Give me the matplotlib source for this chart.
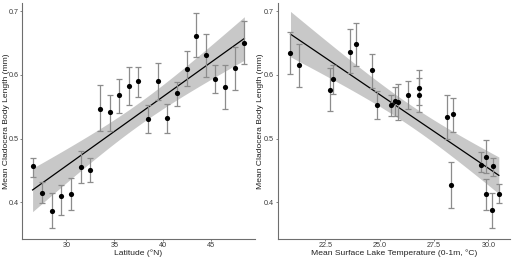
import matplotlib
matplotlib.use('Agg')
import matplotlib.pyplot as plt
import numpy as np

plt.rcParams['font.family'] = ['Liberation Sans', 'DejaVu Sans']

# latitude panel
lat = [26.5, 27.5, 28.5, 29.5, 30.5, 31.5, 32.5, 33.5, 34.5, 35.5, 36.5, 37.5,
       38.5, 39.5, 40.5, 41.5, 42.5, 43.5, 44.5, 45.5, 46.5, 47.5, 48.5]
lat_mean = [0.456, 0.414, 0.386, 0.410, 0.413, 0.455, 0.451, 0.547, 0.542, 0.568,
            0.583, 0.590, 0.531, 0.590, 0.533, 0.571, 0.610, 0.662, 0.631, 0.594,
            0.581, 0.611, 0.651]
lat_hi = [0.470, 0.431, 0.414, 0.427, 0.438, 0.480, 0.469, 0.584, 0.568, 0.594,
          0.612, 0.612, 0.553, 0.619, 0.555, 0.589, 0.637, 0.697, 0.664, 0.616,
          0.616, 0.644, 0.685]
lat_lo = [0.440, 0.398, 0.359, 0.380, 0.387, 0.430, 0.432, 0.512, 0.512, 0.540,
          0.553, 0.565, 0.509, 0.560, 0.509, 0.551, 0.582, 0.629, 0.597, 0.571,
          0.546, 0.577, 0.617]

# temperature panel
temp = [20.89, 21.29, 22.73, 22.84, 23.65, 23.91, 24.66, 24.85, 25.52, 25.71,
        25.86, 26.32, 26.79, 26.79, 28.11, 28.37, 28.28, 29.68, 29.89, 29.89,
        30.15, 30.20, 30.48]
temp_mean = [0.635, 0.615, 0.577, 0.593, 0.636, 0.648, 0.607, 0.553, 0.552, 0.559,
             0.558, 0.569, 0.580, 0.569, 0.534, 0.539, 0.427, 0.459, 0.471, 0.412,
             0.387, 0.456, 0.413]
temp_hi = [0.667, 0.649, 0.611, 0.615, 0.673, 0.681, 0.633, 0.574, 0.569, 0.581,
           0.586, 0.591, 0.607, 0.595, 0.568, 0.563, 0.463, 0.479, 0.498, 0.437,
           0.414, 0.470, 0.429]
temp_lo = [0.601, 0.581, 0.544, 0.570, 0.603, 0.614, 0.580, 0.531, 0.535, 0.535,
           0.529, 0.547, 0.552, 0.541, 0.500, 0.510, 0.390, 0.447, 0.445, 0.387,
           0.359, 0.441, 0.398]

band_col = '#c8c8c8'
bar_col = '#8c8c8c'
axis_col = '#6e6e6e'


def lm_band(x, y):
    # ordinary least squares with 95% confidence band, like geom_smooth(method='lm')
    x = np.asarray(x)
    y = np.asarray(y)
    n = len(x)
    b, a = np.polyfit(x, y, 1)
    resid = y - (a + b * x)
    s = np.sqrt(np.sum(resid ** 2) / (n - 2))
    xs = np.linspace(x.min(), x.max(), 80)
    fit = a + b * xs
    se = s * np.sqrt(1.0 / n + (xs - x.mean()) ** 2 / np.sum((x - x.mean()) ** 2))
    t = 2.08
    return xs, fit, fit - t * se, fit + t * se


def draw_panel(ax, x, mean, lo, hi, xlabel, xticks, xticklabels, xlim, ylab_x):
    xs, fit, lo_b, hi_b = lm_band(x, mean)
    ax.fill_between(xs, lo_b, hi_b, color=band_col, lw=0, zorder=1)
    ax.plot(xs, fit, color='black', lw=0.9, zorder=2)
    mean = np.asarray(mean)
    yerr = [mean - np.asarray(lo), np.asarray(hi) - mean]
    ax.errorbar(x, mean, yerr=yerr, fmt='none', ecolor=bar_col, elinewidth=0.9,
                capsize=2.5, capthick=0.9, zorder=3)
    ax.scatter(x, mean, s=14, color='black', zorder=4, linewidths=0)
    ax.set_xlim(*xlim)
    ax.set_ylim(0.342, 0.713)
    ax.set_xticks(xticks)
    ax.set_xticklabels(xticklabels)
    ax.set_yticks([0.4, 0.5, 0.6, 0.7])
    ax.set_yticklabels(['0.4', '0.5', '0.6', '0.7'])
    for side in ['top', 'right']:
        ax.spines[side].set_visible(False)
    for side in ['left', 'bottom']:
        ax.spines[side].set_color(axis_col)
        ax.spines[side].set_linewidth(0.8)
    ax.tick_params(length=1.5, width=0.6, color=axis_col, labelsize=5.2,
                   labelcolor='#3a3a3a', pad=1)
    ax.set_xlabel(xlabel, fontsize=6.1, color='#222222', labelpad=0)
    ax.set_ylabel('Mean Cladocera Body Length (mm)', fontsize=6.1,
                  color='#222222')
    ax.yaxis.set_label_coords(ylab_x, 0.5)


fig = plt.figure(figsize=(5.2, 2.6), dpi=100)
ax1 = fig.add_axes([0.0423, 0.081, 0.448, 0.907])
ax2 = fig.add_axes([0.534, 0.081, 0.447, 0.907])

draw_panel(ax1, lat, lat_mean, lat_lo, lat_hi, 'Latitude (°N)',
           [30, 35, 40, 45], ['30', '35', '40', '45'], (25.4, 49.6), -0.052)
draw_panel(ax2, temp, temp_mean, temp_lo, temp_hi,
           'Mean Surface Lake Temperature (0-1m, °C)',
           [22.5, 25.0, 27.5, 30.0], ['22.5', '25.0', '27.5', '30.0'],
           (20.3, 31.0), -0.06)

fig.savefig('out.png', dpi=100)
